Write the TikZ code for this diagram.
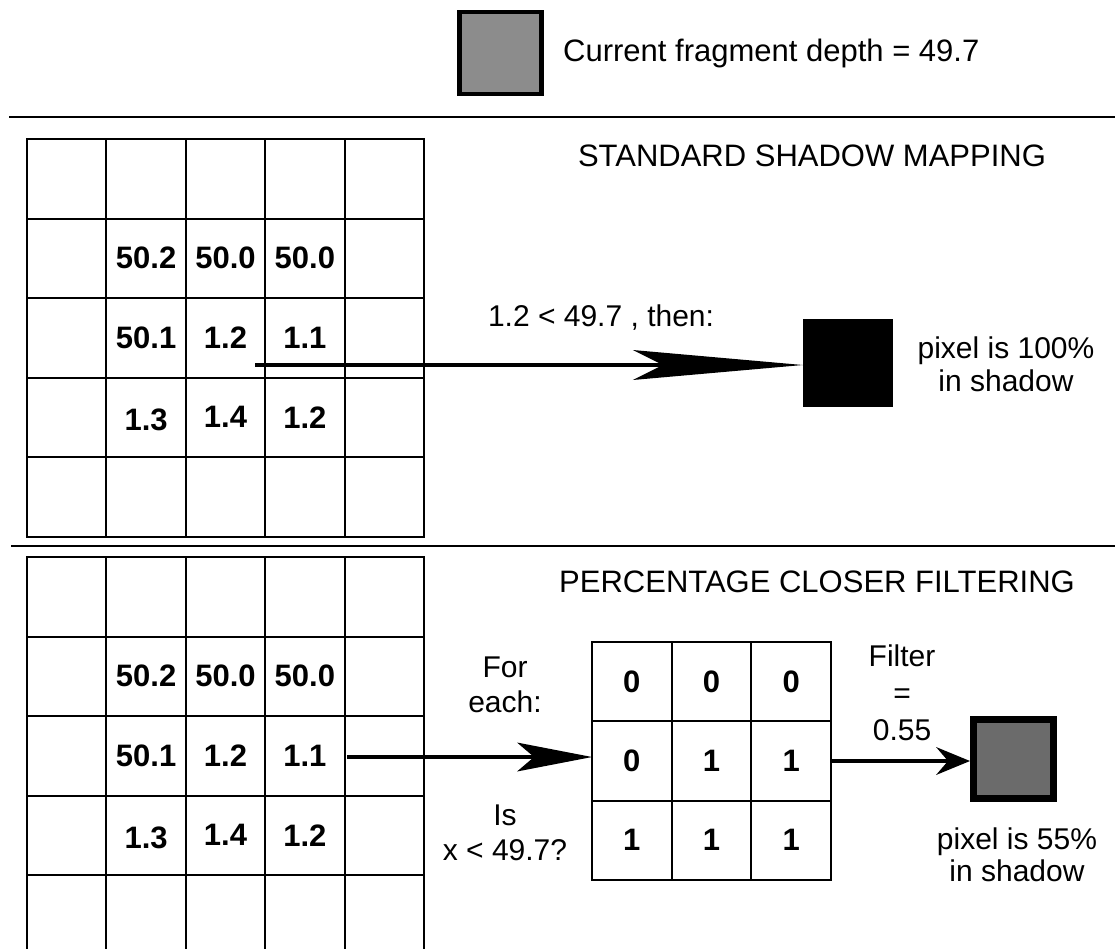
\documentclass[tikz,border=0pt]{standalone}
\usepackage{fontspec}
\setmainfont{Liberation Sans}
\usetikzlibrary{arrows.meta}
\definecolor{curgray}{HTML}{8C8C8C}
\definecolor{pcfgray}{HTML}{6B6B6B}
\begin{document}
\begin{tikzpicture}[x=1pt,y=-1pt,
  txt/.style={font=\fontsize{30}{34}\selectfont, inner sep=0pt, align=center},
  bigtxt/.style={font=\fontsize{31}{35}\selectfont, inner sep=0pt, align=center},
  num/.style={font=\bfseries\fontsize{31}{35}\selectfont, inner sep=0pt},
  cell/.style={draw, line width=2pt, minimum width=79.5pt, minimum height=79.5pt, inner sep=0pt, outer sep=0pt},
  sepline/.style={line width=2pt},
  shaft/.style={line width=4.5pt}
]
\useasboundingbox (0,0) rectangle (1115,948);
\clip (0,0) rectangle (1115,948);
\fill[white] (0,0) rectangle (1115,948);

% legend
\node[draw, line width=4.5pt, fill=curgray, minimum width=82pt, minimum height=82pt, inner sep=0pt] (cur) at (500.5,53) {};
\node[bigtxt, anchor=west] (curtxt) at (563,53) {Current fragment depth = 49.7};

% separators
\draw[sepline] (9,117) -- (1115,117);
\draw[sepline] (11,546) -- (1115,546);

% big grids
\foreach \g/\y in {A/139, B/557} {
  \foreach \r in {1,...,5} {
    \foreach \c in {1,...,5} {
      \node[cell] (\g\r\c) at ({27+79.4*(\c-0.5)}, {\y+79.5*(\r-0.5)}) {};
    }
  }
  \node[num] (n\g22) at (\g22) {50.2};
  \node[num] (n\g23) at (\g23) {50.0};
  \node[num] (n\g24) at (\g24) {50.0};
  \node[num] (n\g32) at (\g32) {50.1};
  \node[num] (n\g33) at (\g33) {1.2};
  \node[num] (n\g34) at (\g34) {1.1};
  \node[num] (n\g42) at ([yshift=-3pt]\g42.center) {1.3};
  \node[num] (n\g43) at (\g43) {1.4};
  \node[num] (n\g44) at (\g44) {1.2};
}

% titles
\node[bigtxt] (title1) at (812,156) {STANDARD SHADOW MAPPING};
\node[bigtxt] (title2) at (817,582) {PERCENTAGE CLOSER FILTERING};

% standard shadow mapping
\node[txt] (cmp) at (601,318) {1.2 < 49.7 , then:};
\node[draw, fill=black, minimum width=89pt, minimum height=87pt, inner sep=0pt] (full) at (847.5,362.5) {};
\node[txt, font=\fontsize{30}{33}\selectfont] (res1) at (1006,364) {pixel is 100\%\\in shadow};
\coordinate (a1s) at (255,365);
\draw[shaft, -{Stealth[length=170pt, width=30pt, inset=30pt, line width=0pt]}] (a1s) -- (a1s -| full.west);

% PCF
\foreach \r/\a/\b/\cc in {1/0/0/0, 2/0/1/1, 3/1/1/1} {
  \node[cell, minimum width=79.7pt, minimum height=79.3pt] (s\r1) at ({592+79.7*0.5}, {642+79.3*(\r-0.5)}) {};
  \node[cell, minimum width=79.7pt, minimum height=79.3pt] (s\r2) at ({592+79.7*1.5}, {642+79.3*(\r-0.5)}) {};
  \node[cell, minimum width=79.7pt, minimum height=79.3pt] (s\r3) at ({592+79.7*2.5}, {642+79.3*(\r-0.5)}) {};
  \node[num] (ns\r1) at (s\r1) {\a};
  \node[num] (ns\r2) at (s\r2) {\b};
  \node[num] (ns\r3) at (s\r3) {\cc};
}
\node[txt, font=\fontsize{30}{35}\selectfont] (foreach) at (505,685) {For\\each:};
\node[txt, font=\fontsize{30}{35}\selectfont] (isx) at (505,833) {Is\\x < 49.7?};
\coordinate (a2s) at (347,757);
\draw[shaft, -{Stealth[length=75pt, width=29pt, inset=17pt, line width=0pt]}] (a2s) -- (a2s -| s21.west);

\node[draw, line width=7pt, fill=pcfgray, minimum width=80pt, minimum height=79pt, inner sep=0pt] (part) at (1013.5,759) {};
\node[txt, font=\fontsize{30}{37}\selectfont] (filt) at (902,693) {Filter\\=\\0.55};
\node[txt, font=\fontsize{30}{32}\selectfont] (res2) at (1017,855) {pixel is 55\%\\in shadow};
\coordinate (a3s) at (s23.east |- 0,761);
\draw[shaft, -{Stealth[length=34pt, width=28pt, inset=12pt, line width=0pt]}] (a3s) -- (a3s -| part.west);
\end{tikzpicture}
\end{document}
